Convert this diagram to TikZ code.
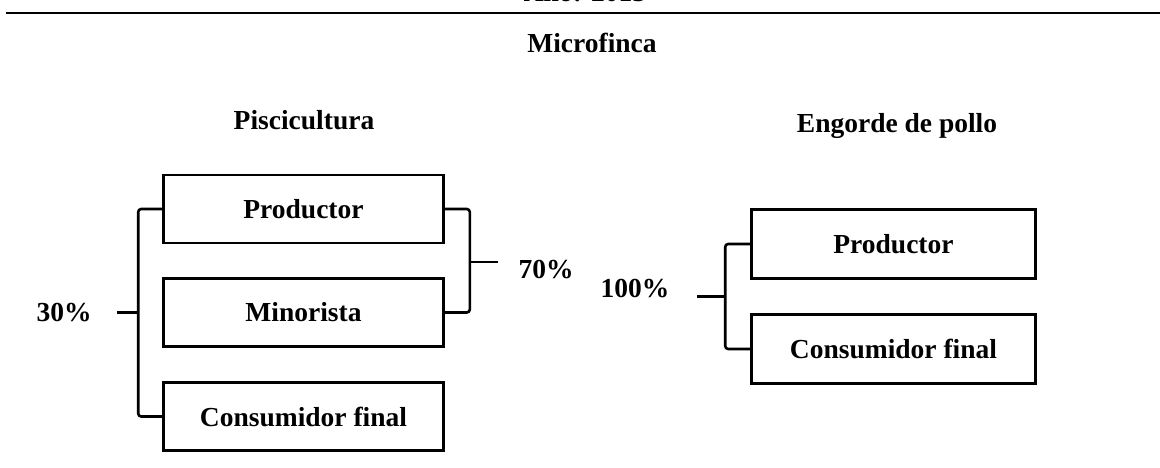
\documentclass[tikz,border=0pt]{standalone}
\usepackage{fontspec}
\setmainfont{Liberation Serif}
\begin{document}
\begin{tikzpicture}[x=1pt,y=-1pt,
  txt/.style={font=\fontsize{27.5}{31}\selectfont\bfseries, inner sep=0pt},
  box/.style={txt, draw=black, line width=2.6pt, minimum width=280pt, minimum height=68pt},
  rbox/.style={box, minimum width=284pt, minimum height=69pt},
  link/.style={draw=black, line width=2.6pt, rounded corners=3pt}
]
\useasboundingbox[fill=white] (0,0) rectangle (1160,468);
\begin{scope}
\clip (0,0) rectangle (1160,468);
\node[txt, anchor=base] (year) at (585,2) {Año: 2015};
\end{scope}
\coordinate (ruleL) at (6,13);
\coordinate (ruleR) at (1160,13);
\draw[line width=2pt] (ruleL) -- (ruleR);

\node[txt, anchor=base] (title) at (592,53) {Microfinca};
\node[txt, anchor=base] (pisc) at (304,130) {Piscicultura};
\node[txt, anchor=base] (pollo) at (897,133) {Engorde de pollo};

\node[box] (lp) at (303.5,209) {Productor};
\node[box] (lm) at (303.5,312.5) {Minorista};
\node[box] (lc) at (303.5,416.5) {Consumidor final};

\node[rbox] (rp) at (893.5,244) {Productor};
\node[rbox] (rc) at (893.5,349) {Consumidor final};

\node[txt] (p30) at (64,313) {30\%};
\node[txt] (p70) at (546,270) {70\%};
\node[txt] (p100) at (635,289) {100\%};

% left bracket
\draw[link] (lp.west) -- ++(-24,0) |- (lc.west);
\coordinate (lbm) at (138,312.5);
\coordinate (lbs) at (117,312.5);
\draw[line width=2.6pt] (lbm) -- (lbs);

% right bracket (piscicultura)
\draw[link] (lp.east) -- ++(25,0) |- (lm.east);
\coordinate (rbm) at (470,262);
\coordinate (rbs) at (498,262);
\draw[line width=2.6pt] (rbm) -- (rbs);

% engorde bracket
\draw[link] (rp.west) -- ++(-25,0) |- (rc.west);
\coordinate (ebm) at (725,296.5);
\coordinate (ebs) at (697,296.5);
\draw[line width=2.6pt] (ebm) -- (ebs);
\end{tikzpicture}
\end{document}
